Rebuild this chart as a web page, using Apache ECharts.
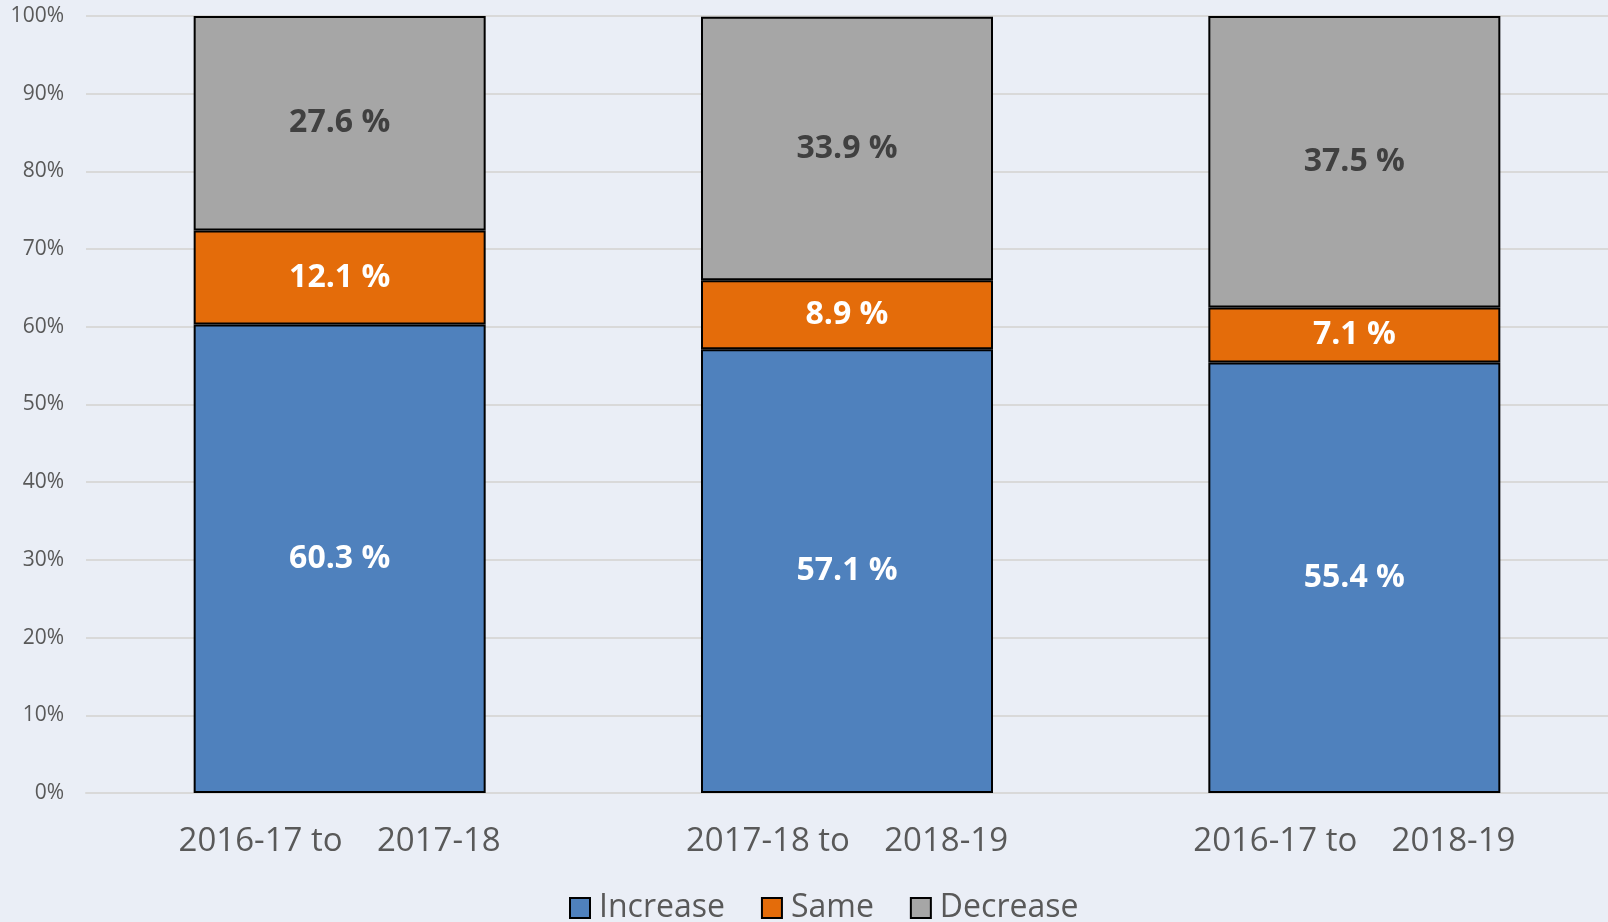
<!DOCTYPE html>
<html>
<head>
<meta charset="utf-8">
<script src="https://cdn.jsdelivr.net/npm/echarts@6/dist/echarts.min.js"></script>
<style>
  html, body { margin: 0; padding: 0; background: #EAEEF6; }
  #charts { width: 1608px; height: 922px; }
</style>
</head>
<body>
<div id="charts"></div>
<script>
// data
var categories = ['2016-17 to    2017-18', '2017-18 to    2018-19', '2016-17 to    2018-19'];
var increase = [60.3, 57.1, 55.4];
var same = [12.1, 8.9, 7.1];
var decrease = [27.6, 33.9, 37.5];
var yTicks = [0, 10, 20, 30, 40, 50, 60, 70, 80, 90, 100];

var chart = echarts.init(document.getElementById('charts'));
var font = 'Open Sans';

function bar(name, data, color, labelColor) {
	return {
		name: name,
		type: 'bar',
		stack: 'all',
		barWidth: 292,
		data: data,
		itemStyle: { color: color, borderColor: '#000', borderWidth: 2 },
		label: {
			show: true,
			formatter: '{c} %',
			color: labelColor,
			fontFamily: font,
			fontWeight: 'bold',
			fontSize: 32
		}
	};
}

var option = {
	backgroundColor: '#EAEEF6',
	animation: false,
	grid: { left: 86, right: 0, top: 16, bottom: 129 },
	legend: {
		data: ['Increase', 'Same', 'Decrease'],
		top: 887,
		left: 564,
		itemWidth: 20,
		itemHeight: 20,
		itemGap: 36,
		icon: 'rect',
		itemStyle: { borderColor: '#000', borderWidth: 2 },
		textStyle: { color: '#595959', fontFamily: font, fontSize: 32, padding: [0, 0, 0, 4] }
	},
	xAxis: {
		type: 'category',
		data: categories,
		axisTick: { show: false },
		axisLine: { lineStyle: { color: '#D9D9D9', width: 2 } },
		axisLabel: { color: '#595959', fontFamily: font, fontSize: 33, margin: 32 }
	},
	yAxis: {
		type: 'value',
		min: yTicks[0],
		max: yTicks[yTicks.length - 1],
		interval: 10,
		axisLine: { show: false },
		axisTick: { show: false },
		splitLine: { lineStyle: { color: '#D9D9D9', width: 2 } },
		axisLabel: { formatter: '{value}%', color: '#595959', fontFamily: font, fontSize: 21, margin: 22 }
	},
	series: [
		bar('Increase', increase, '#4F81BD', '#fff'),
		bar('Same', same, '#E46C0A', '#fff'),
		bar('Decrease', decrease, '#A6A6A6', '#404040')
	]
};
chart.setOption(option);
</script>
</body>
</html>
